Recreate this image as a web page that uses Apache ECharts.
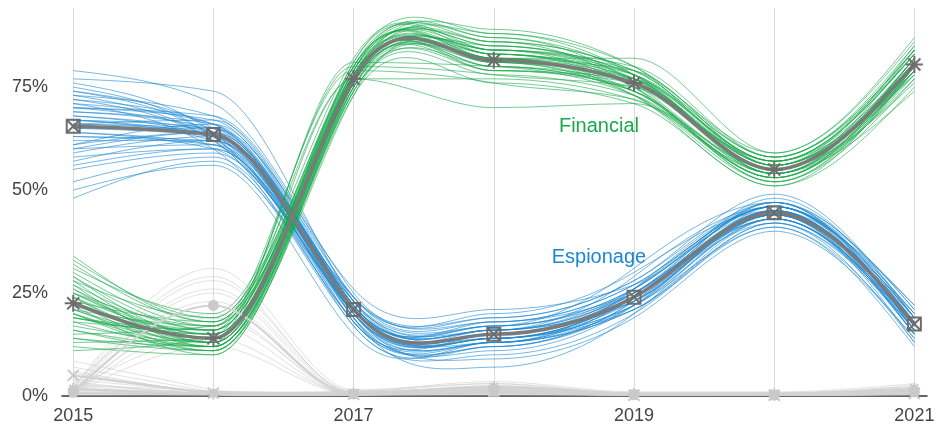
<!DOCTYPE html>
<html>
<head>
<meta charset="utf-8">
<script src="https://cdn.jsdelivr.net/npm/echarts@6/dist/echarts.min.js"></script>
<style>
  html, body { margin: 0; padding: 0; background: #ffffff; }
  #chart { width: 950px; height: 429px; }
</style>
</head>
<body>
<div id="chart"></div>
<script>
// Years on the horizontal axis
const years = [2015, 2016, 2017, 2018, 2019, 2020, 2021];
const xLabelYears = [2015, 2017, 2019, 2021];
const yTickValues = [0, 25, 50, 75];

// Share of incidents by motive (%), average per year
const financialMean = [22.5, 14, 77, 81.5, 76, 55, 80.5];
const espionageMean = [65.5, 63.5, 21, 15, 24, 44.5, 17.5];
const funMean = [1, 22, 0.5, 1.5, 0.3, 0.2, 1];
const grudgeMean = [5, 0.7, 0.4, 1.2, 0.2, 0.2, 0.6];
const ideologyMean = [1.8, 0.5, 0.7, 2.2, 0.6, 0.6, 1.9];
const otherMean = [0.6, 0.7, 0.4, 0.8, 0.4, 0.4, 0.8];

// Plausible outcomes (resampled estimates) for each motive
const financialDraws = [
  [24, 15, 78, 83, 77, 56, 81],
  [18, 12, 76, 80, 74, 54, 79],
  [30, 17, 79, 85, 78, 57, 83],
  [14, 11, 74, 78, 73, 52, 77],
  [27, 16, 80, 86, 79, 58, 84],
  [21, 13, 77, 82, 76, 55, 80],
  [33, 19, 81, 88, 80, 59, 86],
  [12, 10, 73, 76, 71, 51, 75],
  [25, 14, 78, 79, 75, 54, 82],
  [19, 15, 76, 84, 77, 56, 79],
  [23, 18, 79, 81, 74, 53, 81],
  [16, 12, 75, 83, 78, 57, 78],
  [28, 13, 77, 77, 72, 53, 80],
  [22, 16, 80, 82, 79, 56, 85],
  [20, 11, 74, 80, 76, 55, 76],
  [26, 15, 78, 86, 75, 54, 82],
  [13, 14, 76, 81, 73, 52, 79],
  [31, 20, 82, 84, 80, 58, 84],
  [17, 13, 75, 79, 77, 56, 81],
  [24, 12, 79, 87, 78, 55, 80],
  [29, 16, 77, 70, 71, 54, 77],
  [21, 14, 81, 83, 76, 57, 83],
  [15, 17, 76, 82, 82, 59, 87],
  [34, 18, 78, 80, 74, 53, 79],
  [23, 11, 73, 85, 77, 55, 82],
  [19, 15, 80, 78, 75, 56, 78],
  [26, 13, 77, 82, 73, 51, 80],
  [22, 10, 75, 84, 79, 58, 85],
  [11, 14, 78, 81, 76, 54, 74],
  [25, 17, 79, 76, 72, 53, 81],
  [20, 12, 76, 88, 78, 57, 83],
  [28, 19, 80, 83, 77, 55, 80],
  [23, 14, 77, 89, 80, 56, 82],
  [18, 16, 79, 84, 75, 53, 78],
  [27, 12, 75, 81, 77, 57, 84],
  [20, 13, 78, 85, 78, 54, 80],
  [32, 18, 80, 82, 74, 55, 81],
  [16, 11, 76, 79, 76, 56, 79],
  [25, 15, 77, 86, 79, 58, 83],
  [21, 17, 78, 83, 75, 52, 80],
  [14, 12, 74, 82, 77, 55, 82],
  [29, 14, 81, 80, 73, 54, 79],
  [24, 13, 76, 84, 78, 57, 81],
  [19, 16, 79, 87, 76, 55, 84]
];

const espionageDraws = [
  [66, 64, 21, 15, 24, 45, 17],
  [72, 66, 23, 17, 26, 46, 19],
  [58, 60, 19, 13, 22, 43, 16],
  [79, 71, 25, 19, 28, 47, 21],
  [62, 62, 20, 14, 23, 44, 15],
  [69, 65, 22, 16, 25, 45, 18],
  [48, 57, 17, 10, 20, 41, 14],
  [74, 63, 24, 18, 27, 46, 20],
  [64, 61, 18, 12, 23, 43, 17],
  [70, 67, 21, 15, 24, 47, 16],
  [55, 59, 20, 14, 21, 42, 13],
  [76, 64, 23, 16, 29, 46, 22],
  [67, 62, 19, 11, 22, 44, 18],
  [61, 66, 22, 17, 25, 48, 19],
  [73, 68, 24, 20, 30, 45, 17],
  [52, 58, 18, 13, 21, 43, 15],
  [68, 63, 21, 15, 24, 44, 16],
  [65, 65, 26, 21, 27, 46, 20],
  [71, 60, 20, 9, 19, 40, 14],
  [60, 64, 22, 16, 26, 45, 18],
  [77, 74, 23, 18, 25, 47, 21],
  [63, 61, 17, 12, 23, 42, 16],
  [69, 66, 21, 14, 22, 44, 13],
  [57, 62, 24, 19, 28, 49, 19],
  [75, 63, 19, 7, 20, 43, 17],
  [66, 67, 22, 15, 26, 46, 18],
  [50, 56, 15, 13, 24, 44, 15],
  [70, 64, 20, 16, 23, 45, 22],
  [64, 60, 21, 17, 31, 47, 16],
  [59, 63, 23, 14, 22, 41, 12],
  [72, 62, 18, 15, 25, 46, 19],
  [67, 65, 20, 13, 24, 44, 17],
  [65, 63, 20, 14, 24, 45, 18],
  [71, 66, 22, 16, 23, 46, 17],
  [60, 61, 21, 15, 25, 43, 16],
  [68, 64, 19, 12, 22, 44, 19],
  [73, 62, 23, 17, 26, 47, 18],
  [56, 60, 20, 14, 24, 45, 15],
  [66, 65, 22, 16, 25, 44, 20],
  [63, 62, 18, 13, 21, 42, 17],
  [70, 68, 24, 18, 27, 46, 16],
  [67, 63, 21, 15, 23, 45, 18],
  [61, 64, 20, 14, 24, 43, 17],
  [74, 65, 22, 13, 26, 46, 19]
];

const funDraws = [
  [0.5, 22, 0.5, 1.5, 0.3, 0.2, 1],
  [1, 28, 1, 2, 0.5, 0.3, 1.5],
  [0.3, 17, 0.3, 1, 0.2, 0.1, 0.5],
  [2, 31, 1.5, 3, 0.5, 0.5, 2],
  [0.8, 25, 0.8, 1.5, 0.3, 0.3, 1],
  [1.5, 14, 0.5, 2.5, 0.4, 0.2, 1.2],
  [0.2, 20, 0.2, 1, 0.1, 0.1, 0.8],
  [1.2, 26, 1.2, 2, 0.4, 0.4, 2.5],
  [0.5, 12, 0.4, 0.8, 0.2, 0.2, 0.6],
  [3, 23, 0.6, 1.8, 0.3, 0.2, 1],
  [0.6, 19, 0.9, 2.2, 0.6, 0.3, 1.4],
  [1.8, 29, 0.7, 1.2, 0.2, 0.1, 0.9]
];

const grudgeDraws = [
  [5, 0.5, 0.3, 1, 0.2, 0.2, 0.5],
  [7, 1, 0.5, 1.5, 0.3, 0.3, 0.8],
  [3, 0.3, 0.2, 0.5, 0.1, 0.1, 0.3],
  [8.5, 1.5, 0.6, 2, 0.4, 0.3, 1],
  [4, 0.8, 0.4, 1.2, 0.2, 0.2, 0.6],
  [6, 0.4, 0.3, 0.8, 0.2, 0.2, 0.4],
  [2.5, 1.2, 0.2, 1.5, 0.3, 0.1, 0.7],
  [5.5, 0.6, 0.5, 1, 0.2, 0.2, 0.5]
];

const ideologyDraws = [
  [1.5, 0.3, 0.5, 2, 0.5, 0.5, 1.5],
  [2.5, 0.6, 1, 3, 0.8, 0.8, 2.5],
  [0.8, 0.2, 0.3, 1.5, 0.3, 0.3, 1],
  [3.5, 0.8, 1.2, 3.5, 1, 1, 3],
  [1, 0.4, 0.6, 2.5, 0.5, 0.6, 2],
  [2, 0.5, 0.8, 1.2, 0.4, 0.4, 1.2]
];

const otherDraws = [
  [0.5, 0.5, 0.3, 0.5, 0.3, 0.3, 0.5],
  [1, 1, 0.6, 1, 0.5, 0.5, 1],
  [0.2, 0.3, 0.1, 0.3, 0.1, 0.1, 0.3],
  [1.5, 1.2, 0.8, 1.5, 0.6, 0.7, 1.4]
];

// Direct labels placed in data space
const financialLabel = [2018.75, 65.5, 'Financial'];
const espionageLabel = [2018.75, 33.7, 'Espionage'];

const GREEN = '#1aa84c';
const BLUE = '#1b87d0';
const MEAN_GREY = '#7a7a7a';
const LIGHT_GREY = '#c9c9c9';
const FONT = '"Liberation Sans", Arial, Helvetica, sans-serif';

// Tangent scale for the curve renderer (cardinal-style, >1 gives a livelier bend)
const CURVE_TENSION = 1.7;
// Tangents may not exceed this multiple of the incoming slope
const SLOPE_LIMIT = 2;

const SYMBOL_ASTERISK = 'path://M0,-10L0,10M-10,0L10,0M-7.07,-7.07L7.07,7.07M-7.07,7.07L7.07,-7.07';
const SYMBOL_BOX_X = 'path://M-10,-10L10,-10L10,10L-10,10ZM-10,-10L10,10M10,-10L-10,10';
const SYMBOL_X = 'path://M-10,-10L10,10M10,-10L-10,10';

function toPoints(values) {
  return years.map((y, i) => [y, values[i]]);
}

// Hermite tangents: flat at turning points, cardinal elsewhere,
// kept within a multiple of the incoming slope.
function curveTangents(v) {
  const n = v.length;
  const s = [];
  for (let i = 0; i < n - 1; i++) s.push((v[i + 1] - v[i]) / (years[i + 1] - years[i]));
  const m = new Array(n);
  for (let i = 1; i < n - 1; i++) {
    if (s[i - 1] * s[i] <= 0) {
      m[i] = 0;
    } else {
      let t = CURVE_TENSION * (s[i - 1] + s[i]) / 2;
      const lim = SLOPE_LIMIT * Math.abs(s[i - 1]);
      if (Math.abs(t) > lim) t = Math.sign(t) * lim;
      m[i] = t;
    }
  }
  m[0] = (3 * s[0] - m[1]) / 2;
  m[n - 1] = (3 * s[n - 2] - m[n - 2]) / 2;
  return m;
}

// A smooth line drawn as cubic Bezier segments in the grid's coordinates
function curveSeries(values, color, opacity, width, z) {
  const tangents = curveTangents(values);
  return {
    type: 'custom',
    coordinateSystem: 'cartesian2d',
    data: toPoints(values),
    encode: { x: 0, y: 1 },
    clip: true,
    silent: true,
    z: z,
    renderItem: function (params, api) {
      if (params.dataIndex !== 0) return null;
      const children = [];
      for (let i = 0; i < values.length - 1; i++) {
        const h = years[i + 1] - years[i];
        const p0 = api.coord([years[i], values[i]]);
        const p1 = api.coord([years[i + 1], values[i + 1]]);
        const c0 = api.coord([years[i] + h / 3, values[i] + tangents[i] * h / 3]);
        const c1 = api.coord([years[i + 1] - h / 3, values[i + 1] - tangents[i + 1] * h / 3]);
        children.push({
          type: 'bezierCurve',
          shape: {
            x1: p0[0], y1: p0[1],
            x2: p1[0], y2: p1[1],
            cpx1: c0[0], cpy1: c0[1],
            cpx2: c1[0], cpy2: c1[1]
          },
          style: { stroke: color, lineWidth: width, fill: null, opacity: opacity }
        });
      }
      return { type: 'group', children: children };
    }
  };
}

function markerSeries(values, symbol, size, color, z, filled) {
  return {
    type: 'scatter',
    data: toPoints(values),
    symbol: symbol,
    symbolSize: size,
    silent: true,
    z: z,
    itemStyle: filled
      ? { color: color, opacity: 1, borderWidth: 0 }
      : { color: 'rgba(0,0,0,0)', borderColor: color, borderWidth: 2, opacity: 1 }
  };
}

function labelSeries(item, color) {
  return {
    type: 'scatter',
    data: [item],
    symbolSize: 0,
    silent: true,
    z: 20,
    itemStyle: { opacity: 1 },
    label: {
      show: true,
      position: 'inside',
      formatter: (p) => p.value[2],
      color: color,
      opacity: 1,
      fontSize: 20,
      fontFamily: FONT
    }
  };
}

const series = [];
[funDraws, grudgeDraws, ideologyDraws, otherDraws].forEach(group =>
  group.forEach(d => series.push(curveSeries(d, '#cdcdcd', 0.75, 0.8, 2))));
espionageDraws.forEach(d => series.push(curveSeries(d, BLUE, 0.75, 0.8, 3)));
financialDraws.forEach(d => series.push(curveSeries(d, GREEN, 0.75, 0.8, 4)));

// Average lines for the minor motives
[otherMean, ideologyMean, grudgeMean, funMean].forEach(m =>
  series.push(curveSeries(m, '#d2d2d2', 1, 2, 6)));
series.push(markerSeries(otherMean, 'rect', 8, LIGHT_GREY, 7, true));
series.push(markerSeries(ideologyMean, SYMBOL_ASTERISK, 11, LIGHT_GREY, 7, false));
series.push(markerSeries(grudgeMean, SYMBOL_X, 11, LIGHT_GREY, 7, false));
series.push(markerSeries(funMean, 'circle', 11, LIGHT_GREY, 7, true));

// Average lines for the two main motives
series.push(curveSeries(espionageMean, MEAN_GREY, 1, 3.5, 10));
series.push(curveSeries(financialMean, MEAN_GREY, 1, 3.5, 11));
series.push(markerSeries(espionageMean, SYMBOL_BOX_X, 13, '#6d6d6d', 12, false));
series.push(markerSeries(financialMean, SYMBOL_ASTERISK, 17, '#6d6d6d', 12, false));

series.push(labelSeries(financialLabel, GREEN));
series.push(labelSeries(espionageLabel, BLUE));

const chart = echarts.init(document.getElementById('chart'), null, { renderer: 'canvas' });
chart.setOption({
  animation: false,
  backgroundColor: '#ffffff',
  grid: { left: 62, right: 23, top: 8, bottom: 33, containLabel: false },
  xAxis: {
    type: 'value',
    min: 2014.92,
    max: 2021.09,
    axisLine: { show: true, lineStyle: { color: '#333333', width: 1.5 } },
    axisTick: { show: false, customValues: years },
    axisLabel: {
      customValues: xLabelYears,
      formatter: (v) => String(v),
      color: '#444444',
      fontSize: 18,
      fontFamily: FONT,
      margin: 11
    },
    splitLine: { show: true, lineStyle: { color: '#dadada', width: 1 } }
  },
  yAxis: {
    type: 'value',
    min: 0,
    max: 94.2,
    axisLine: { show: false },
    axisTick: { show: false, customValues: yTickValues },
    axisLabel: {
      customValues: yTickValues,
      formatter: (v) => v + '%',
      color: '#444444',
      fontSize: 18,
      fontFamily: FONT,
      margin: 14
    },
    splitLine: { show: false }
  },
  series: series
});
</script>
</body>
</html>
